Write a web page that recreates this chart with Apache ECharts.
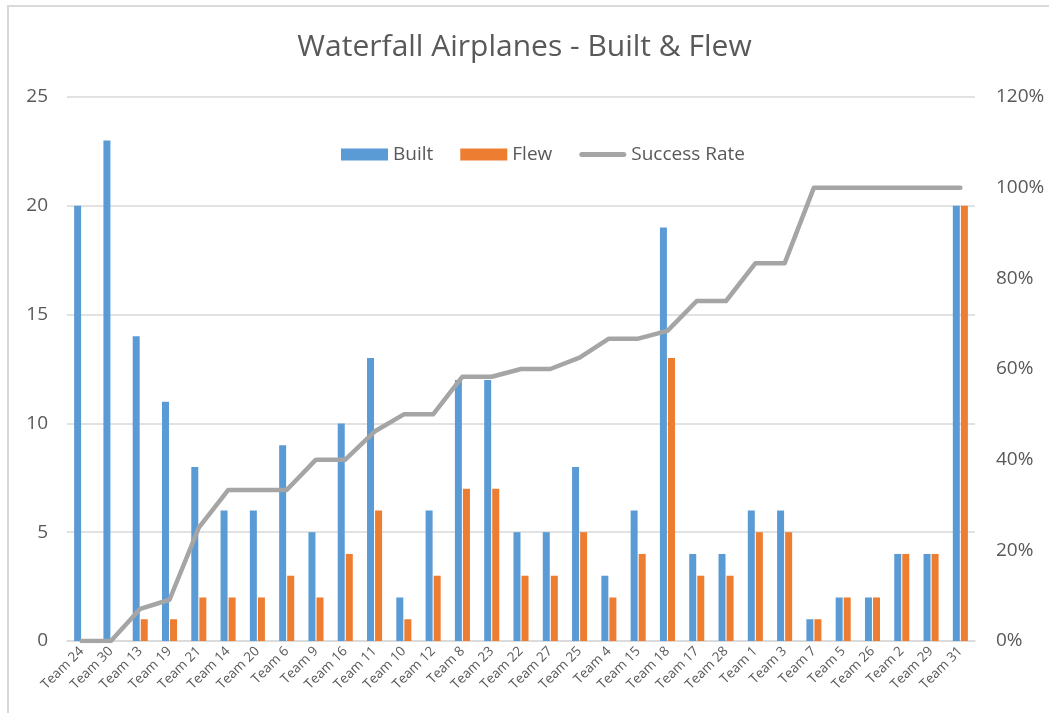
<!DOCTYPE html>
<html>
<head>
<meta charset="utf-8">
<title>Waterfall Airplanes - Built & Flew</title>
<script src="https://cdn.jsdelivr.net/npm/echarts@6/dist/echarts.min.js"></script>
<style>
  html, body { margin: 0; padding: 0; background: #fff; }
  #chart { width: 1049px; height: 713px; }
</style>
</head>
<body>
<div id="chart"></div>
<script>
var teams = ['Team 24', 'Team 30', 'Team 13', 'Team 19', 'Team 21', 'Team 14', 'Team 20', 'Team 6',
    'Team 9', 'Team 16', 'Team 11', 'Team 10', 'Team 12', 'Team 8', 'Team 23', 'Team 22',
    'Team 27', 'Team 25', 'Team 4', 'Team 15', 'Team 18', 'Team 17', 'Team 28', 'Team 1',
    'Team 3', 'Team 7', 'Team 5', 'Team 26', 'Team 2', 'Team 29', 'Team 31'];

var built = [20, 23, 14, 11, 8, 6, 6, 9, 5, 10, 13, 2, 6, 12, 12, 5, 5, 8, 3, 6, 19, 4, 4, 6, 6, 1, 2, 2, 4, 4, 20];
var flew  = [0, 0, 1, 1, 2, 2, 2, 3, 2, 4, 6, 1, 3, 7, 7, 3, 3, 5, 2, 4, 13, 3, 3, 5, 5, 1, 2, 2, 4, 4, 20];

// success rate
var successRate = [0, 0, 0.071, 0.091, 0.25, 0.333, 0.333, 0.333, 0.4, 0.4, 0.462, 0.5, 0.5, 0.583, 0.583,
    0.6, 0.6, 0.625, 0.667, 0.667, 0.684, 0.75, 0.75, 0.833, 0.833, 1, 1, 1, 1, 1, 1];

var leftTicks = [0, 5, 10, 15, 20, 25];
var rightTicks = [0, 0.2, 0.4, 0.6, 0.8, 1.0, 1.2];

var font = 'Open Sans, Lato, sans-serif';
var textColor = '#595959';

var chart = echarts.init(document.getElementById('chart'));

chart.setOption({
    animation: false,
    backgroundColor: '#fff',
    graphic: [{
        type: 'rect',
        shape: { x: 8, y: 6, width: 1200, height: 800 },
        style: { fill: 'none', stroke: '#d9d9d9', lineWidth: 2 },
        silent: true
    }],
    title: {
        text: 'Waterfall Airplanes - Built & Flew',
        left: 'center',
        top: 27,
        textStyle: { fontFamily: font, fontSize: 30, fontWeight: 'normal', color: textColor }
    },
    legend: {
        top: 140,
        left: 336,
        itemWidth: 47,
        itemHeight: 12,
        itemGap: 27,
        textStyle: { fontFamily: font, fontSize: 19, color: textColor },
        data: [
            { name: 'Built', icon: 'rect' },
            { name: 'Flew', icon: 'rect' },
            { name: 'Success Rate', icon: 'path://M2.5,0 L44.5,0 A2.5,2.5 0 0 1 44.5,5 L2.5,5 A2.5,2.5 0 0 1 2.5,0 Z' }
        ]
    },
    grid: { left: 67, right: 74, top: 97, bottom: 72, containLabel: false },
    xAxis: {
        type: 'category',
        data: teams,
        axisLine: { lineStyle: { color: '#d9d9d9', width: 1.5 } },
        axisTick: { show: false },
        axisLabel: {
            rotate: 45,
            interval: 0,
            margin: 8,
            fontFamily: font,
            fontSize: 13.5,
            color: textColor
        }
    },
    yAxis: [{
        type: 'value',
        min: 0,
        max: leftTicks[leftTicks.length - 1],
        interval: 5,
        axisLine: { show: false },
        axisTick: { show: false },
        axisLabel: { margin: 19, fontFamily: font, fontSize: 19, color: textColor },
        splitLine: { lineStyle: { color: '#d9d9d9', width: 1.5 } }
    }, {
        type: 'value',
        min: 0,
        max: rightTicks[rightTicks.length - 1],
        interval: 0.2,
        position: 'right',
        axisLine: { show: false },
        axisTick: { show: false },
        splitLine: { show: false },
        axisLabel: {
            margin: 21,
            fontFamily: font,
            fontSize: 19,
            color: textColor,
            formatter: function(v) { return Math.round(v * 100) + '%'; }
        }
    }],
    series: [{
        name: 'Built',
        type: 'bar',
        data: built,
        barWidth: 7,
        barGap: '15%',
        itemStyle: { color: '#5b9bd5' }
    }, {
        name: 'Flew',
        type: 'bar',
        data: flew,
        barWidth: 7,
        itemStyle: { color: '#ed7d31' }
    }, {
        name: 'Success Rate',
        type: 'line',
        yAxisIndex: 1,
        data: successRate,
        symbol: 'none',
        lineStyle: { color: '#a5a5a5', width: 4.5, cap: 'round', join: 'round' },
        itemStyle: { color: '#a5a5a5' }
    }]
});
</script>
</body>
</html>
